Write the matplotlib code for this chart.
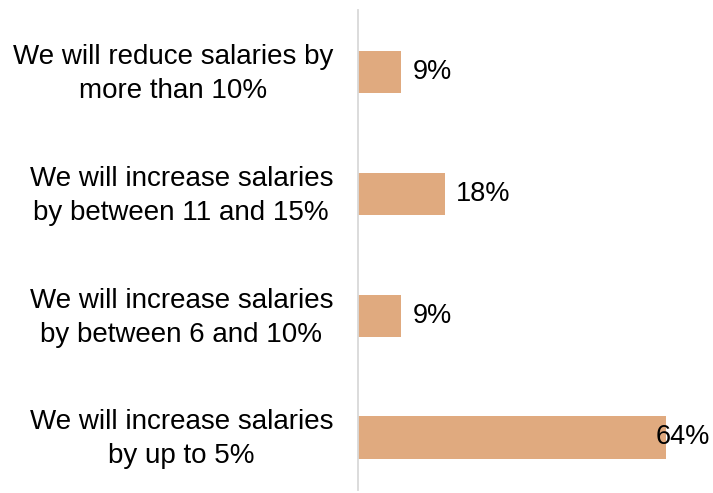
import matplotlib.pyplot as plt
from matplotlib.transforms import ScaledTranslation
import numpy as np

plt.rcParams['font.family'] = ['Liberation Sans', 'DejaVu Sans']

# Responses, listed bottom to top
categories = ['We will increase salaries\nby up to 5%',
              'We will increase salaries\nby between 6 and 10%',
              'We will increase salaries\nby between 11 and 15%',
              'We will reduce salaries by\nmore than 10%']
shares = [64, 9, 18, 9]
labels = ['64%', '9%', '18%', '9%']

fig = plt.figure(figsize=(7.13, 4.93), dpi=100)
ax = fig.add_axes([358 / 713, 3 / 493, 355 / 713, 480 / 493])

y = np.arange(len(categories))
ax.barh(y, shares, height=0.345, color='#E0AA7F')
ax.set_xlim(0, 73.8)
ax.set_ylim(-0.431, 3.509)

for yi, v, lab in zip(y, shares, labels):
    xpos = v + 2.3 if v < 50 else v - 2.1
    ax.text(xpos, yi, lab, va='center', ha='left', fontsize=19.5, color='black')

ax.set_yticks(y)
ax.set_yticklabels(categories, fontsize=20, multialignment='center', linespacing=1.4)
ax.tick_params(axis='y', length=0, pad=18)
# nudge the category labels up a little
shift = ScaledTranslation(0, 0.05, fig.dpi_scale_trans)
for lbl in ax.get_yticklabels():
    lbl.set_transform(lbl.get_transform() + shift)
ax.set_xticks([])
for side in ['top', 'right', 'bottom']:
    ax.spines[side].set_visible(False)
ax.spines['left'].set_color('#D9D9D9')
ax.spines['left'].set_linewidth(1.3)

fig.savefig('out.png', dpi=100)
